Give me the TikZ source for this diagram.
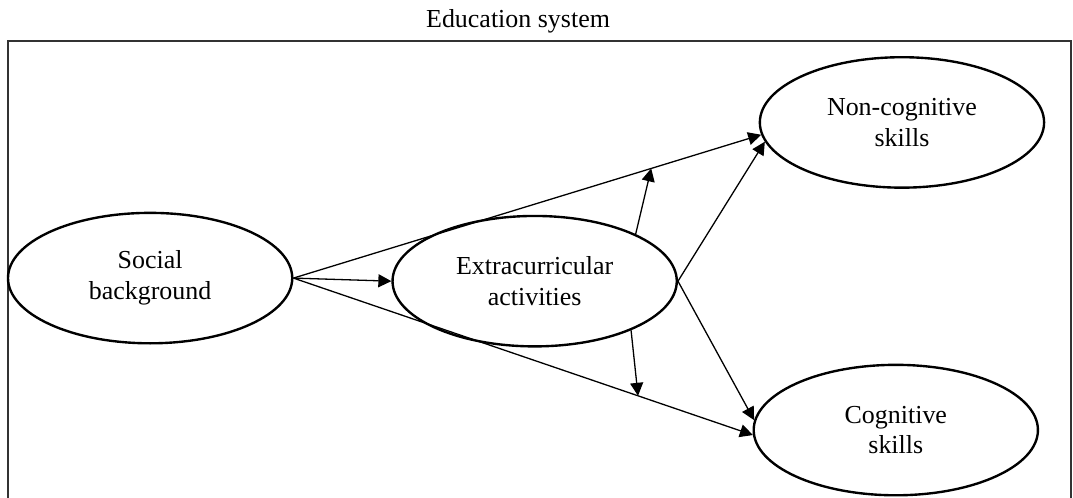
\documentclass[tikz,border=0pt]{standalone}
\usepackage{fontspec}
\setmainfont{Liberation Serif}
\usetikzlibrary{shapes.geometric,arrows.meta}

\begin{document}
\begin{tikzpicture}[
  font=\fontsize{12}{14.3}\selectfont,
  var/.style={ellipse,draw,line width=1.1pt,minimum width=4.62cm,minimum height=2.12cm,inner sep=0pt,align=center},
  link/.style={line width=0.6pt,-{Triangle[length=6pt,width=6pt]}}
]

  % Frame
  \useasboundingbox (0,0) rectangle (17.44,8.08);
  \draw[line width=0.9pt,black!80] (0.13,-0.5) rectangle (17.40,7.41);
  \node (title) at (8.42,7.73) {Education system};

  % Variables
  \node[var] (soc) at (2.44,3.56) {Social\\background};
  \node[var] (ext) at (8.69,3.51) {Extracurricular\\activities};
  \node[var] (nc)  at (14.66,6.09) {Non-cognitive\\skills};
  \node[var] (cog) at (14.56,1.09) {Cognitive\\skills};

  % Direct effects
  \draw[link] (soc.east) -- (ext.west);
  \draw[link] (soc.east) -- coordinate[pos=0.765] (m1) (nc.185);
  \draw[link] (soc.east) -- coordinate[pos=0.75] (m2) (cog.182);
  \draw[link] (ext.east) -- (nc.188);
  \draw[link] (ext.east) -- (cog.176);

  % Moderation
  \draw[link] (ext.25) -- (m1);
  \draw[link] (ext.333) -- (m2);

\end{tikzpicture}
\end{document}
